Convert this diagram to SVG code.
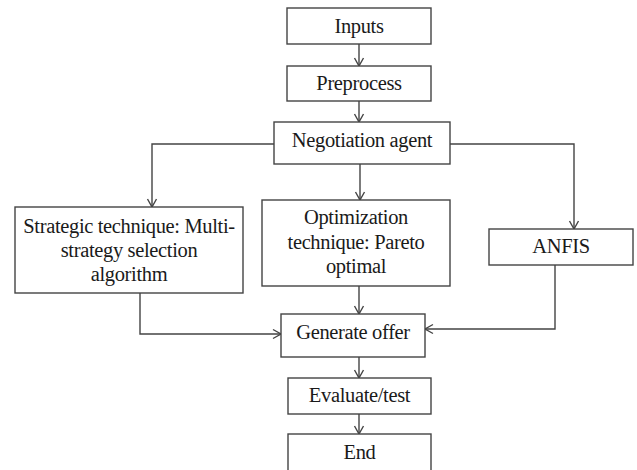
<svg xmlns="http://www.w3.org/2000/svg" width="637" height="470" viewBox="0 0 637 470">
<defs>
<style>
.box{fill:#fff;stroke:#444;stroke-width:1.4}
.t{font-family:"Liberation Serif","Times New Roman",serif;font-size:20.5px;letter-spacing:-0.35px;fill:#1a1a1a;text-anchor:middle}
.c{fill:none;stroke:#444;stroke-width:1.4}
</style>
<marker id="ah" viewBox="0 0 12 12" refX="11" refY="6" markerWidth="12" markerHeight="12" markerUnits="userSpaceOnUse" orient="auto">
<polyline points="3,1.5 11,6 3,10.5" fill="none" stroke="#444" stroke-width="1.4"/>
</marker>
</defs>
<rect width="637" height="470" fill="#fff"/>
<g id="connectors">
<line class="c" x1="359" y1="44" x2="359" y2="66" marker-end="url(#ah)"/>
<line class="c" x1="359" y1="101" x2="359" y2="122" marker-end="url(#ah)"/>
<polyline class="c" points="274,144 152,144 152,207" marker-end="url(#ah)"/>
<line class="c" x1="360" y1="164" x2="360" y2="200" marker-end="url(#ah)"/>
<polyline class="c" points="450,144 574,144 574,229" marker-end="url(#ah)"/>
<polyline class="c" points="140,293 140,334 281,334" marker-end="url(#ah)"/>
<line class="c" x1="359" y1="286" x2="359" y2="314" marker-end="url(#ah)"/>
<polyline class="c" points="555,265 555,329 425,329" marker-end="url(#ah)"/>
<line class="c" x1="359" y1="357" x2="359" y2="378" marker-end="url(#ah)"/>
<line class="c" x1="359" y1="414" x2="359" y2="434" marker-end="url(#ah)"/>
</g>
<g id="inputs">
<rect class="box" x="287" y="8" width="144" height="36"/>
<text class="t" x="359" y="33">Inputs</text>
</g>
<g id="preprocess">
<rect class="box" x="287" y="66" width="144" height="35"/>
<text class="t" x="359" y="90">Preprocess</text>
</g>
<g id="negotiation">
<rect class="box" x="274" y="122" width="176" height="42"/>
<text class="t" x="362" y="147">Negotiation agent</text>
</g>
<g id="strategic">
<rect class="box" x="15" y="207" width="228" height="86"/>
<text class="t" x="129" y="233">Strategic technique: Multi-</text>
<text class="t" x="129" y="256.5">strategy selection</text>
<text class="t" x="129" y="280.5">algorithm</text>
</g>
<g id="optimization">
<rect class="box" x="262" y="200" width="188" height="86"/>
<text class="t" x="356" y="224">Optimization</text>
<text class="t" x="356" y="248.5">technique: Pareto</text>
<text class="t" x="356" y="272.5">optimal</text>
</g>
<g id="anfis">
<rect class="box" x="489" y="229" width="144" height="36"/>
<text class="t" x="561" y="253">ANFIS</text>
</g>
<g id="generate">
<rect class="box" x="281" y="314" width="144" height="43"/>
<text class="t" x="353" y="339">Generate offer</text>
</g>
<g id="evaluate">
<rect class="box" x="288" y="378" width="143" height="36"/>
<text class="t" x="359.5" y="402">Evaluate/test</text>
</g>
<g id="end">
<rect class="box" x="288" y="434" width="143" height="42"/>
<text class="t" x="359.5" y="459">End</text>
</g>
</svg>
